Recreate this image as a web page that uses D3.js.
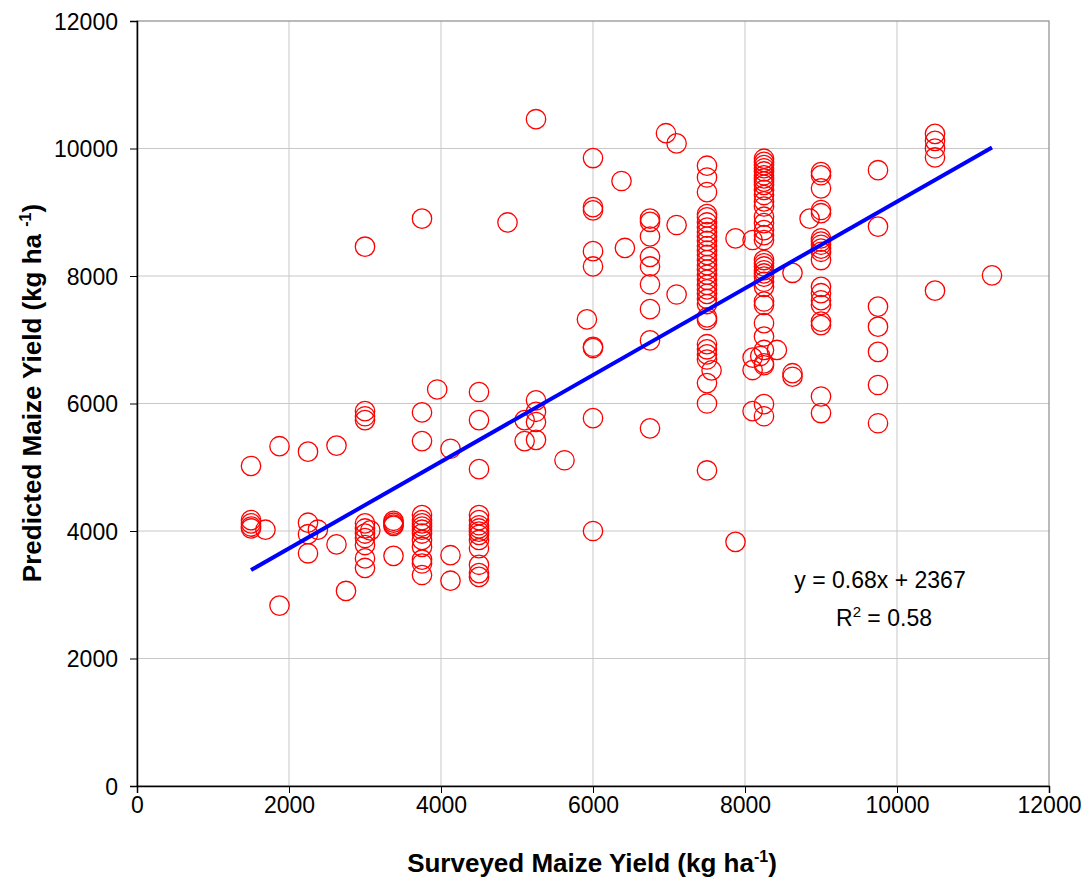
<!DOCTYPE html>
<html>
<head>
    <meta charset="utf-8">
    <title>Predicted vs surveyed maize yield</title>
    <style>
        body { margin: 0; background: #fff; }
        text { font-family: Arial, "Liberation Sans", sans-serif; }
    </style>
</head>
<body>
    <script src="https://d3js.org/d3.v7.min.js"></script>
    <script>
    // surveyed yield levels (x) and the predicted yields observed at each level (y)
    var surveyedLevels = [1500, 1690, 1875, 2250, 2380, 2625, 2750, 3000, 3070, 3375, 3750, 3950,
        4125, 4500, 4875, 5100, 5250, 5625, 5920, 6000, 6375, 6420, 6750, 6960, 7100, 7500, 7560,
        7875, 8100, 8200, 8250, 8420, 8625, 8850, 9000, 9750, 10500, 11250];

    var predictedAtLevel = [
        [5020, 4170, 4120, 4070, 4040],
        [4020],
        [5330, 2830],
        [5245, 4130, 3950, 3650],
        [4020],
        [5340, 3790],
        [3060],
        [8460, 5880, 5800, 5740, 4120, 4040, 3960, 3890, 3780, 3570, 3420],
        [4010],
        [4160, 4130, 4100, 4080, 3610],
        [8900, 5860, 5410, 4250, 4170, 4120, 4070, 4020, 3960, 3860, 3750, 3550, 3490, 3310],
        [6220],
        [5290, 3620, 3220],
        [6180, 5740, 4970, 4250, 4170, 4090, 4040, 3990, 3940, 3860, 3730, 3470, 3340, 3280],
        [8840],
        [5740, 5410],
        [10460, 6050, 5870, 5710, 5430],
        [5110],
        [7320],
        [9850, 9080, 9030, 8390, 8150, 6890, 6870, 5770, 4000],
        [9490],
        [8440],
        [8900, 8850, 8620, 8300, 8150, 7870, 7480, 6990, 5610],
        [10240],
        [10080, 8800, 7710],
        [9730, 9545, 9315, 8970, 8920, 8840, 8760, 8690, 8620, 8550, 8470, 8400, 8330, 8250, 8170,
         8100, 8020, 7940, 7860, 7790, 7720, 7640, 7560, 7350, 7310, 6930, 6850, 6770, 6690, 6320,
         6000, 4950],
        [6520],
        [8590, 3830],
        [8565, 6720, 6525, 5880],
        [6745],
        [9840, 9790, 9740, 9690, 9640, 9580, 9530, 9480, 9430, 9350, 9270, 9170, 9090, 8930, 8830,
         8720, 8640, 8565, 8250, 8200, 8150, 8090, 8040, 7990, 7910, 7830, 7600, 7545, 7260, 7050,
         6840, 6630, 6600, 5990, 5800],
        [6840],
        [8050, 6475, 6420],
        [8900],
        [9630, 9580, 9375, 9035, 8985, 8590, 8540, 8490, 8430, 8380, 8250, 7830, 7730, 7620, 7545,
         7285, 7230, 6110, 5850],
        [9660, 8775, 7520, 7205, 6810, 6290, 5690],
        [10230, 10120, 10000, 9860, 7770],
        [8010]
    ];

    var tickValues = [0, 2000, 4000, 6000, 8000, 10000, 12000];
    var slope = 0.68, intercept = 2367, rSquared = 0.58;
    var fitRange = [1500, 11250];

    const width = 1087, height = 879;
    const plotLeft = 137, plotRight = 1049, plotTop = 21, plotBottom = 786;

    var points = [];
    surveyedLevels.forEach(function(x, i) {
        predictedAtLevel[i].forEach(function(y) { points.push({x: x, y: y}); });
    });

    const svg = d3.select("body").append("svg")
        .attr("width", width)
        .attr("height", height);

    svg.append("rect").attr("width", width).attr("height", height).attr("fill", "#fff");

    var x = d3.scaleLinear().domain([0, 12000]).range([plotLeft, plotRight]);
    var y = d3.scaleLinear().domain([0, 12000]).range([plotBottom, plotTop]);

    // gridlines
    svg.append("g").selectAll("line")
        .data(tickValues.slice(1, -1)).enter().append("line")
        .attr("x1", d => x(d)).attr("x2", d => x(d))
        .attr("y1", plotTop).attr("y2", plotBottom)
        .attr("stroke", "#c8c8c8").attr("stroke-width", 1);
    svg.append("g").selectAll("line")
        .data(tickValues.slice(1, -1)).enter().append("line")
        .attr("x1", plotLeft).attr("x2", plotRight)
        .attr("y1", d => y(d)).attr("y2", d => y(d))
        .attr("stroke", "#c8c8c8").attr("stroke-width", 1);

    // plot area frame
    svg.append("rect")
        .attr("x", plotLeft).attr("y", plotTop)
        .attr("width", plotRight - plotLeft).attr("height", plotBottom - plotTop)
        .attr("fill", "none").attr("stroke", "#8c8c8c").attr("stroke-width", 1.2);

    // axes
    var xAxis = d3.axisBottom(x).tickValues(tickValues).tickSize(7).tickPadding(3)
        .tickFormat(d3.format("d"));
    var yAxis = d3.axisLeft(y).tickValues(tickValues).tickSize(7).tickPadding(12)
        .tickFormat(d3.format("d"));

    var gx = svg.append("g").attr("transform", "translate(0," + plotBottom + ")").call(xAxis);
    var gy = svg.append("g").attr("transform", "translate(" + plotLeft + ",0)").call(yAxis);
    [gx, gy].forEach(function(g) {
        g.select(".domain").attr("stroke", "#000").attr("stroke-width", 1.5);
        g.selectAll(".tick line").attr("stroke", "#000");
        g.selectAll("text").attr("font-size", 23).attr("fill", "#000")
            .attr("font-family", "Arial, 'Liberation Sans', sans-serif");
    });
    gx.selectAll(".tick text").attr("dy", "0.74em");
    gy.selectAll(".tick text").attr("dy", "0.36em");

    // points
    svg.append("g").selectAll("circle")
        .data(points).enter().append("circle")
        .attr("cx", d => x(d.x))
        .attr("cy", d => y(d.y))
        .attr("r", 9.7)
        .attr("fill", "none")
        .attr("stroke", "#ff0000")
        .attr("stroke-width", 1.3);

    // fitted line
    svg.append("line")
        .attr("x1", x(fitRange[0])).attr("y1", y(slope * fitRange[0] + intercept))
        .attr("x2", x(fitRange[1])).attr("y2", y(slope * fitRange[1] + intercept))
        .attr("stroke", "#0000ff").attr("stroke-width", 4);

    // equation
    svg.append("text")
        .attr("x", 880).attr("y", 588)
        .attr("text-anchor", "middle").attr("font-size", 23)
        .text("y = " + slope + "x + " + intercept);
    var r2 = svg.append("text")
        .attr("x", 884).attr("y", 626)
        .attr("text-anchor", "middle").attr("font-size", 23);
    r2.append("tspan").text("R");
    r2.append("tspan").attr("font-size", 15).attr("dy", -9).text("2");
    r2.append("tspan").attr("dy", 9).text(" = " + rSquared);

    // axis titles
    var xt = svg.append("text")
        .attr("x", 592).attr("y", 872)
        .attr("text-anchor", "middle").attr("font-size", 26).attr("font-weight", "bold");
    xt.append("tspan").text("Surveyed Maize Yield (kg ha");
    xt.append("tspan").attr("font-size", 16).attr("dy", -10).text("-1");
    xt.append("tspan").attr("dy", 10).text(")");

    var yt = svg.append("text")
        .attr("transform", "translate(41,393) rotate(-90)")
        .attr("text-anchor", "middle").attr("font-size", 26).attr("font-weight", "bold");
    yt.append("tspan").text("Predicted Maize Yield (kg ha ");
    yt.append("tspan").attr("font-size", 16).attr("dy", -10).text("-1");
    yt.append("tspan").attr("dy", 10).text(")");
    </script>
</body>
</html>
